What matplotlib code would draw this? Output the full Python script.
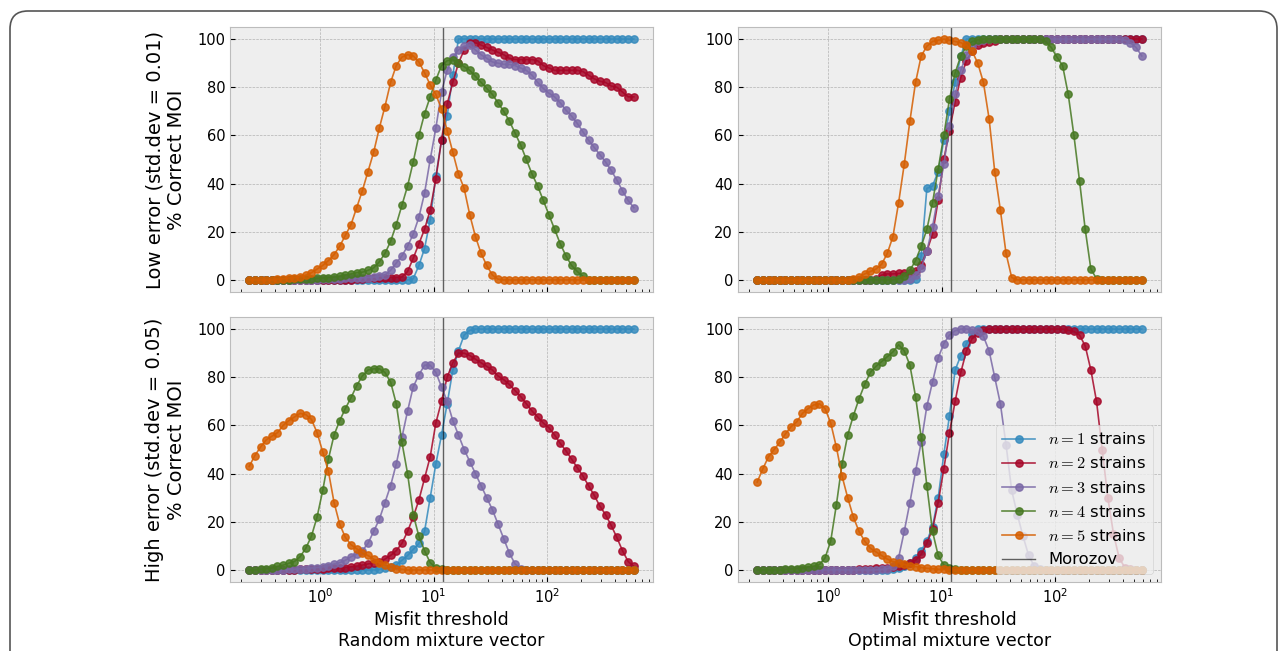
import numpy as np
import matplotlib.pyplot as plt
from matplotlib.patches import FancyBboxPatch
from matplotlib.transforms import IdentityTransform

plt.style.use('bmh')

# misfit thresholds (log10), shared by all curves
log_threshold = [-0.63, -0.58, -0.53, -0.48, -0.43, -0.38, -0.33, -0.28, -0.23, -0.18,
                 -0.13, -0.08, -0.03, 0.02, 0.07, 0.12, 0.17, 0.22, 0.27, 0.32,
                 0.37, 0.42, 0.47, 0.52, 0.57, 0.62, 0.67, 0.72, 0.77, 0.82,
                 0.87, 0.92, 0.97, 1.02, 1.07, 1.12, 1.17, 1.22, 1.27, 1.32,
                 1.37, 1.42, 1.47, 1.52, 1.57, 1.62, 1.67, 1.72, 1.77, 1.82,
                 1.87, 1.92, 1.97, 2.02, 2.07, 2.12, 2.17, 2.22, 2.27, 2.32,
                 2.37, 2.42, 2.47, 2.52, 2.57, 2.62, 2.67, 2.72, 2.77]

# ---- low error, random mixture vector ----
low_random_n1 = [0, 0, 0, 0, 0, 0, 0, 0, 0, 0,
                 0, 0, 0, 0, 0, 0, 0, 0, 0, 0,
                 0, 0, 0, 0, 0, 0, 0, 0, 0, 0.5,
                 6, 13, 25, 43, 58, 68, 85, 100, 100, 100,
                 100, 100, 100, 100, 100, 100, 100, 100, 100, 100,
                 100, 100, 100, 100, 100, 100, 100, 100, 100, 100,
                 100, 100, 100, 100, 100, 100, 100, 100, 100]
low_random_n2 = [0, 0, 0, 0, 0, 0, 0, 0, 0, 0,
                 0, 0, 0, 0, 0, 0, 0, 0, 0, 0.2,
                 0.4, 0.6, 0.8, 1, 1, 1, 1, 1.2, 3.5, 9,
                 15, 21, 29, 42, 58, 73, 82, 90, 95.5, 98.5,
                 98.5, 97.5, 96.5, 95.5, 94.5, 93.5, 92, 91.5, 91.5, 91.5,
                 91.5, 91, 89, 88, 87, 87, 87, 87, 87, 86.5,
                 85, 83.5, 82.5, 82, 80.5, 80, 78, 76, 76]
low_random_n3 = [0, 0, 0, 0, 0, 0, 0, 0, 0, 0,
                 0, 0, 0.1, 0.2, 0.3, 0.4, 0.5, 0.6, 0.7, 0.8,
                 0.9, 1, 1.2, 1.6, 2, 4, 7, 10, 14, 19,
                 26, 36, 50, 63, 78, 87, 92.5, 95.5, 97, 97.5,
                 95.5, 93.5, 92, 90.5, 90, 89.5, 89.5, 89, 88, 87,
                 85, 82, 79.5, 77.5, 76, 73.5, 70.5, 68, 65, 61.5,
                 58, 55, 52, 49, 45.5, 41.5, 37, 33, 30]
low_random_n4 = [0, 0, 0, 0, 0, 0, 0, 0, 0.2, 0.3,
                 0.5, 0.5, 0.6, 0.8, 1, 1.2, 1.5, 2, 2.5, 3,
                 3.2, 4, 5, 7.5, 11, 16, 23, 31, 39, 49,
                 60, 69, 76, 83, 89, 91, 91.5, 90, 88.5, 87,
                 84.5, 82, 79.5, 77, 73.5, 70, 66, 61, 56, 50,
                 44, 39, 33, 27, 21, 15, 10, 6, 3.5, 1.5,
                 0, 0, 0, 0, 0, 0, 0, 0, 0]
low_random_n5 = [0, 0, 0, 0, 0, 0.3, 0.5, 0.8, 1, 1.3,
                 2, 3, 4.5, 6, 8, 10.5, 14, 18.5, 23, 30,
                 37, 45, 53, 63, 72, 82, 89, 92.5, 93.5, 93,
                 90.5, 86, 81, 77, 71, 62, 53, 44, 38, 27,
                 18, 11, 6, 2, 0.3, 0, 0, 0, 0, 0,
                 0, 0, 0, 0, 0, 0, 0, 0, 0, 0,
                 0, 0, 0, 0, 0, 0, 0, 0, 0]

# ---- low error, optimal mixture vector ----
low_optimal_n1 = [0, 0, 0, 0, 0, 0, 0, 0, 0, 0,
                  0, 0, 0, 0, 0, 0, 0, 0, 0, 0,
                  0, 0, 0, 0, 0, 0, 0, 0, 0.5, 10,
                  38, 39, 45, 58, 70, 82, 93, 100, 100, 100,
                  100, 100, 100, 100, 100, 100, 100, 100, 100, 100,
                  100, 100, 100, 100, 100, 100, 100, 100, 100, 100,
                  100, 100, 100, 100, 100, 100, 100, 100, 100]
low_optimal_n2 = [0, 0, 0, 0, 0, 0, 0, 0, 0, 0,
                  0, 0, 0, 0, 0, 0, 0, 0, 0, 0,
                  0, 0.5, 2, 2.5, 2.5, 2.7, 2.8, 3, 3.5, 6,
                  12, 19, 33, 50, 62, 74, 84, 91, 95, 97.5,
                  98.5, 98.8, 99, 100, 100, 100, 100, 100, 100, 100,
                  100, 100, 100, 100, 100, 100, 100, 100, 100, 100,
                  100, 100, 100, 100, 100, 100, 100, 100, 100]
low_optimal_n3 = [0, 0, 0, 0, 0, 0, 0, 0, 0, 0,
                  0, 0, 0, 0, 0, 0, 0, 0, 0, 0,
                  0, 0, 0, 0, 0, 0, 0, 0.5, 2, 5,
                  12, 22, 35, 48, 64, 77, 87, 93.5, 97, 99,
                  99.7, 100, 100, 100, 100, 100, 100, 100, 100, 100,
                  100, 100, 100, 100, 100, 100, 100, 100, 100, 100,
                  100, 100, 100, 100, 100, 99.5, 98.5, 96.5, 93]
low_optimal_n4 = [0, 0, 0, 0, 0, 0, 0, 0, 0, 0,
                  0, 0, 0, 0, 0, 0, 0, 0, 0, 0,
                  0, 0, 0, 0, 0, 0.5, 1.5, 4, 8, 14,
                  21, 32, 46, 60, 75, 86, 93, 97, 99, 99.7,
                  100, 100, 100, 100, 100, 100, 100, 100, 100, 100,
                  100, 99, 96.5, 92.5, 89, 77, 60, 41, 21, 4.5,
                  0.5, 0, 0, 0, 0, 0, 0, 0, 0]
low_optimal_n5 = [0, 0, 0, 0, 0, 0, 0, 0, 0, 0,
                  0, 0, 0, 0, 0, 0, 0, 0.5, 1.2, 2.5,
                  3.5, 4.5, 6.5, 11, 18, 32, 48, 66, 82, 93,
                  97, 99, 99.5, 100, 99.5, 99, 98.5, 97.5, 95, 90,
                  82, 67, 45, 29, 11, 1, 0, 0, 0, 0,
                  0, 0, 0, 0, 0, 0, 0, 0, 0, 0,
                  0, 0, 0, 0, 0, 0, 0, 0, 0]

# ---- high error, random mixture vector ----
high_random_n1 = [0, 0, 0, 0, 0, 0, 0, 0, 0, 0,
                  0, 0, 0, 0, 0, 0, 0, 0, 0, 0,
                  0, 0, 0, 0.3, 0.7, 1.2, 2, 4, 6, 8.5,
                  11, 16, 30, 44, 56, 69, 83, 91, 97.5, 99.5,
                  100, 100, 100, 100, 100, 100, 100, 100, 100, 100,
                  100, 100, 100, 100, 100, 100, 100, 100, 100, 100,
                  100, 100, 100, 100, 100, 100, 100, 100, 100]
high_random_n2 = [0, 0, 0, 0, 0, 0, 0, 0, 0, 0.2,
                  0.3, 0.4, 0.5, 0.6, 0.7, 0.8, 0.9, 1, 1.3, 1.6,
                  2, 2.5, 3, 3.5, 4.5, 6, 8, 11, 16, 22,
                  29, 38, 47, 61, 70, 80, 86, 90, 90, 89,
                  87.5, 86, 84.5, 83, 80.5, 79, 77, 74.5, 72, 69,
                  66, 63.5, 61, 59, 56, 52.5, 49.5, 46, 42.5, 39,
                  35, 31, 26.5, 23, 18.5, 13.5, 8, 3.5, 1.5]
high_random_n3 = [0, 0, 0, 0, 0, 0, 0.1, 0.2, 0.3, 0.5,
                  0.6, 0.8, 1, 1.3, 1.8, 2.5, 3, 4, 5.5, 6.5,
                  8, 11, 16, 21, 28, 35, 44, 55, 66, 76,
                  81, 85, 85, 82, 76, 70, 62, 56, 50, 45,
                  40, 35, 30, 25, 19, 13, 7, 2.5, 0.5, 0,
                  0, 0, 0, 0, 0, 0, 0, 0, 0, 0,
                  0, 0, 0, 0, 0, 0, 0, 0, 0]
high_random_n4 = [0, 0, 0.2, 0.5, 0.8, 1.5, 2, 2.8, 3.5, 5.5,
                  9, 14, 22, 33, 46, 56, 62, 67, 71.5, 76.5,
                  80.5, 83, 83.5, 83.5, 82, 78, 69, 53, 40, 23,
                  14, 8, 3, 1, 0.3, 0, 0, 0, 0, 0,
                  0, 0, 0, 0, 0, 0, 0, 0, 0, 0,
                  0, 0, 0, 0, 0, 0, 0, 0, 0, 0,
                  0, 0, 0, 0, 0, 0, 0, 0, 0]
high_random_n5 = [43, 47.5, 51, 54, 55.5, 57, 60, 62, 63.5, 65,
                  64.5, 62.5, 57, 49, 41, 28, 19, 13.5, 10.5, 8.8,
                  7, 6, 4.5, 3, 2, 1.2, 0.6, 0.3, 0, 0,
                  0, 0, 0, 0, 0, 0, 0, 0, 0, 0,
                  0, 0, 0, 0, 0, 0, 0, 0, 0, 0,
                  0, 0, 0, 0, 0, 0, 0, 0, 0, 0,
                  0, 0, 0, 0, 0, 0, 0, 0, 0]

# ---- high error, optimal mixture vector ----
high_optimal_n1 = [0, 0, 0, 0, 0, 0, 0, 0, 0, 0,
                   0, 0, 0, 0, 0, 0, 0, 0, 0, 0,
                   0, 0, 0, 0, 0.3, 0.8, 1.5, 3, 5, 8,
                   12, 18, 30, 48, 64, 83, 89, 94, 98, 100,
                   100, 100, 100, 100, 100, 100, 100, 100, 100, 100,
                   100, 100, 100, 100, 100, 100, 100, 100, 100, 100,
                   100, 100, 100, 100, 100, 100, 100, 100, 100]
high_optimal_n2 = [0, 0, 0, 0, 0, 0, 0, 0, 0, 0,
                   0, 0, 0, 0, 0, 0, 0, 0, 0.2, 0.3,
                   0.5, 0.7, 0.8, 1, 1.2, 1.5, 2, 2.8, 4, 6.5,
                   11, 17, 28, 42, 57, 70, 82, 91, 96, 98.5,
                   99.7, 100, 100, 100, 100, 100, 100, 100, 100, 100,
                   100, 100, 100, 100, 100, 99.5, 99, 97.5, 93, 83,
                   70, 50, 30, 15, 5, 1, 0.2, 0, 0]
high_optimal_n3 = [0, 0, 0, 0, 0, 0, 0, 0, 0, 0,
                   0, 0, 0, 0, 0, 0, 0, 0, 0, 0,
                   0, 0, 0.2, 0.5, 1.5, 5, 16, 28, 41, 53,
                   68, 78, 88, 94, 97.5, 99.3, 100, 100, 99.8, 99,
                   97, 91, 80, 69, 52, 33, 23, 14, 6, 1.5,
                   0.3, 0, 0, 0, 0, 0, 0, 0, 0, 0,
                   0, 0, 0, 0, 0, 0, 0, 0, 0]
high_optimal_n4 = [0, 0, 0, 0, 0, 0.2, 0.4, 0.6, 0.8, 1.2,
                   1.6, 2.2, 5, 12, 27, 44, 56, 64, 71, 77,
                   82, 84.5, 86.5, 88.5, 90.5, 93.5, 91, 85, 72, 55,
                   35, 16, 6, 2, 1, 0.5, 0, 0, 0, 0,
                   0, 0, 0, 0, 0, 0, 0, 0, 0, 0,
                   0, 0, 0, 0, 0, 0, 0, 0, 0, 0,
                   0, 0, 0, 0, 0, 0, 0, 0, 0]
high_optimal_n5 = [36.5, 42, 47, 50, 53, 56.5, 59.5, 61.5, 65, 67,
                   68.5, 69, 67, 61, 51, 39, 30, 22, 16, 12,
                   9, 7.5, 6, 4.5, 3.5, 3, 2.3, 1.8, 1.4, 1,
                   0.7, 0.5, 0.3, 0.2, 0, 0, 0, 0, 0, 0,
                   0, 0, 0, 0, 0, 0, 0, 0, 0, 0,
                   0, 0, 0, 0, 0, 0, 0, 0, 0, 0,
                   0, 0, 0, 0, 0, 0, 0, 0, 0]

morozov = 12
strain_labels = [r'$n=1$ strains', r'$n=2$ strains', r'$n=3$ strains',
                 r'$n=4$ strains', r'$n=5$ strains']
row_labels = ['Low error (std.dev = 0.01)\n% Correct MOI',
              'High error (std.dev = 0.05)\n% Correct MOI']
col_labels = ['Misfit threshold\nRandom mixture vector',
              'Misfit threshold\nOptimal mixture vector']

panels = [[[low_random_n1, low_random_n2, low_random_n3, low_random_n4, low_random_n5],
           [low_optimal_n1, low_optimal_n2, low_optimal_n3, low_optimal_n4, low_optimal_n5]],
          [[high_random_n1, high_random_n2, high_random_n3, high_random_n4, high_random_n5],
           [high_optimal_n1, high_optimal_n2, high_optimal_n3, high_optimal_n4, high_optimal_n5]]]

threshold = 10 ** np.array(log_threshold)

fig = plt.figure(figsize=(12.87, 6.51), dpi=100)
fig.patch.set_facecolor('white')

lefts = [0.1787, 0.5734]
bottoms = [0.5515, 0.106]
w, h = 0.3287, 0.407

for r in range(2):
    for c in range(2):
        ax = fig.add_axes([lefts[c], bottoms[r], w, h])
        for k, y in enumerate(panels[r][c]):
            ax.plot(threshold, y, marker='o', markersize=5.3, linewidth=1.2, alpha=0.85,
                    label=strain_labels[k])
        ax.axvline(morozov, color='k', linewidth=1, alpha=0.6, label='Morozov')
        ax.set_xscale('log')
        ax.set_yticks([0, 20, 40, 60, 80, 100])
        ax.tick_params(labelsize=10.5)
        if c == 0:
            ax.set_ylabel(row_labels[r], fontsize=14, labelpad=8)
        if r == 1:
            ax.set_xlabel(col_labels[c], fontsize=12.5)
        else:
            ax.set_xticklabels([])
        if r == 1 and c == 1:
            ax.legend(loc='lower right', fontsize=11.8)

# page frame
frame = FancyBboxPatch((10, -30), 1267, 670, boxstyle='round,pad=0,rounding_size=18',
                       transform=IdentityTransform(), fill=False, edgecolor='#555555',
                       linewidth=1.2)
fig.patches.append(frame)

fig.savefig('out.png', dpi=100)
